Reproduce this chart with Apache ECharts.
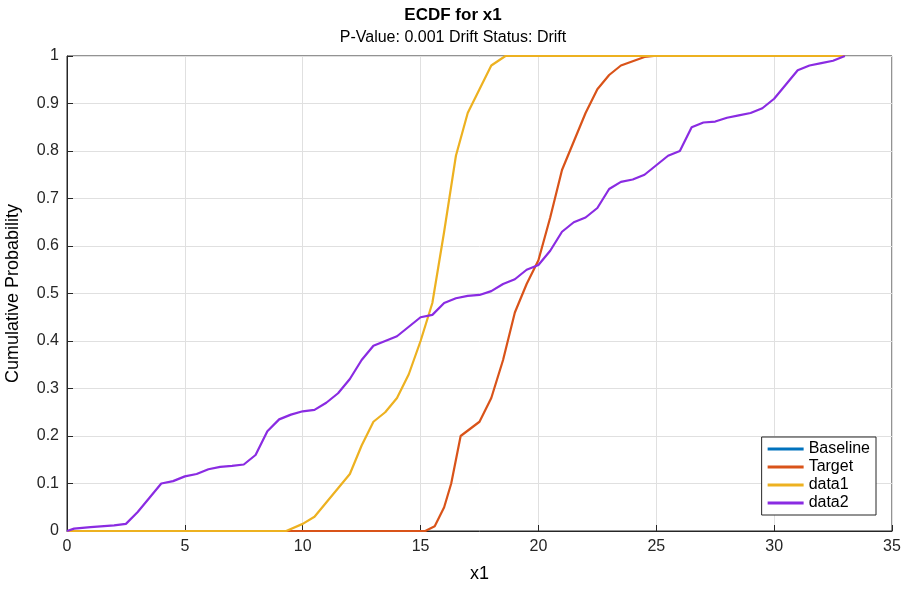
<!DOCTYPE html>
<html><head><meta charset="utf-8">
<script src="https://cdn.jsdelivr.net/npm/echarts@6/dist/echarts.min.js"></script>
<style>html,body{margin:0;padding:0;background:#fff}#c{width:906px;height:589px}</style>
</head><body><div id="c"></div>
<script>
const xTicks=[0,5,10,15,20,25,30,35];
const yTicks=[0,0.1,0.2,0.3,0.4,0.5,0.6,0.7,0.8,0.9,1];
const seriesNames=['Baseline','Target','data1','data2'];
const baseline=[];
const target=[[0,0],[15.2,0],[15.6,0.01],[16,0.05],[16.3,0.1],[16.7,0.2],[17.5,0.23],[18,0.28],[18.5,0.36],[19,0.46],[19.5,0.52],[20,0.57],[20.5,0.66],[21,0.76],[21.5,0.82],[22,0.88],[22.5,0.93],[23,0.96],[23.5,0.98],[24.5,0.998],[24.9,1],[33,1]];
const data1=[[0,0],[9.3,0],[10,0.015],[10.5,0.03],[11,0.06],[11.5,0.09],[12,0.12],[12.5,0.18],[13,0.23],[13.5,0.25],[14,0.28],[14.5,0.33],[15,0.4],[15.5,0.48],[16,0.63],[16.5,0.79],[17,0.88],[17.5,0.93],[18,0.98],[18.6,1],[33,1]];
const data2=[[0,0],[0.3,0.005],[1,0.008],[2,0.012],[2.5,0.015],[3,0.04],[3.5,0.07],[4,0.1],[4.5,0.105],[5,0.115],[5.5,0.12],[6,0.13],[6.5,0.135],[7,0.137],[7.5,0.14],[8,0.16],[8.5,0.21],[9,0.235],[9.5,0.245],[10,0.252],[10.5,0.255],[11,0.27],[11.5,0.29],[12,0.32],[12.5,0.36],[13,0.39],[13.5,0.4],[14,0.41],[14.5,0.43],[15,0.45],[15.5,0.455],[16,0.48],[16.5,0.49],[17,0.495],[17.5,0.497],[18,0.505],[18.5,0.52],[19,0.53],[19.5,0.55],[20,0.56],[20.5,0.59],[21,0.63],[21.5,0.65],[22,0.66],[22.5,0.68],[23,0.72],[23.5,0.735],[24,0.74],[24.5,0.75],[25,0.77],[25.5,0.79],[26,0.8],[26.5,0.85],[27,0.86],[27.5,0.862],[28,0.87],[28.5,0.875],[29,0.88],[29.5,0.89],[30,0.91],[30.5,0.94],[31,0.97],[31.5,0.98],[32,0.985],[32.5,0.99],[33,1]];
const colors=['#0072BD','#D95319','#EDB120','#8a2be2'];
const ff='Helvetica, Arial, Liberation Sans';
const ch=echarts.init(document.getElementById('c'));
const mk=(name,data,color)=>({name,type:'line',data,showSymbol:false,symbol:'none',lineStyle:{width:2.2,color},itemStyle:{color}});
ch.setOption({
 animation:false,
 title:{text:'ECDF for x1',subtext:'P-Value: 0.001 Drift Status: Drift',left:'center',top:2,itemGap:6,
  textStyle:{fontFamily:ff,fontSize:17,fontWeight:'bold',color:'#000'},
  subtextStyle:{fontFamily:ff,fontSize:16,color:'#000'}},
 grid:{left:67,right:14,top:56,bottom:58,containLabel:false,outerBoundsMode:'none',show:true,borderColor:'#262626',borderWidth:1},
 legend:{orient:'vertical',right:30,bottom:74,backgroundColor:'#fff',borderColor:'#262626',borderWidth:1,padding:[4,6,4,6],itemGap:2,itemWidth:36,itemHeight:3,icon:'rect',
  textStyle:{fontFamily:ff,fontSize:16,color:'#000'},data:seriesNames},
 xAxis:{type:'value',min:0,max:35,interval:5,name:'x1',nameLocation:'middle',nameGap:34,
  nameTextStyle:{fontSize:18,color:'#000',fontFamily:ff},
  axisLine:{lineStyle:{color:'#262626'}},axisTick:{inside:true,length:6,lineStyle:{color:'#262626'}},
  axisLabel:{fontSize:16,color:'#262626',fontFamily:ff,formatter:v=>xTicks.includes(v)?String(v):''},
  splitLine:{show:true,lineStyle:{color:'#e0e0e0'}}},
 yAxis:{type:'value',min:0,max:1,interval:0.1,name:'Cumulative Probability',nameLocation:'middle',nameGap:45,
  nameTextStyle:{fontSize:18,color:'#000',fontFamily:ff},
  axisLine:{show:true,lineStyle:{color:'#262626'}},axisTick:{show:true,inside:true,length:6,lineStyle:{color:'#262626'}},
  axisLabel:{fontSize:16,color:'#262626',fontFamily:ff,formatter:v=>{const t=yTicks.find(y=>Math.abs(y-v)<1e-6);return t===undefined?'':String(t);}},
  splitLine:{show:true,lineStyle:{color:'#e0e0e0'}}},
 series:[mk('Baseline',baseline,colors[0]),mk('Target',target,colors[1]),mk('data1',data1,colors[2]),mk('data2',data2,colors[3])]
});
</script></body></html>
